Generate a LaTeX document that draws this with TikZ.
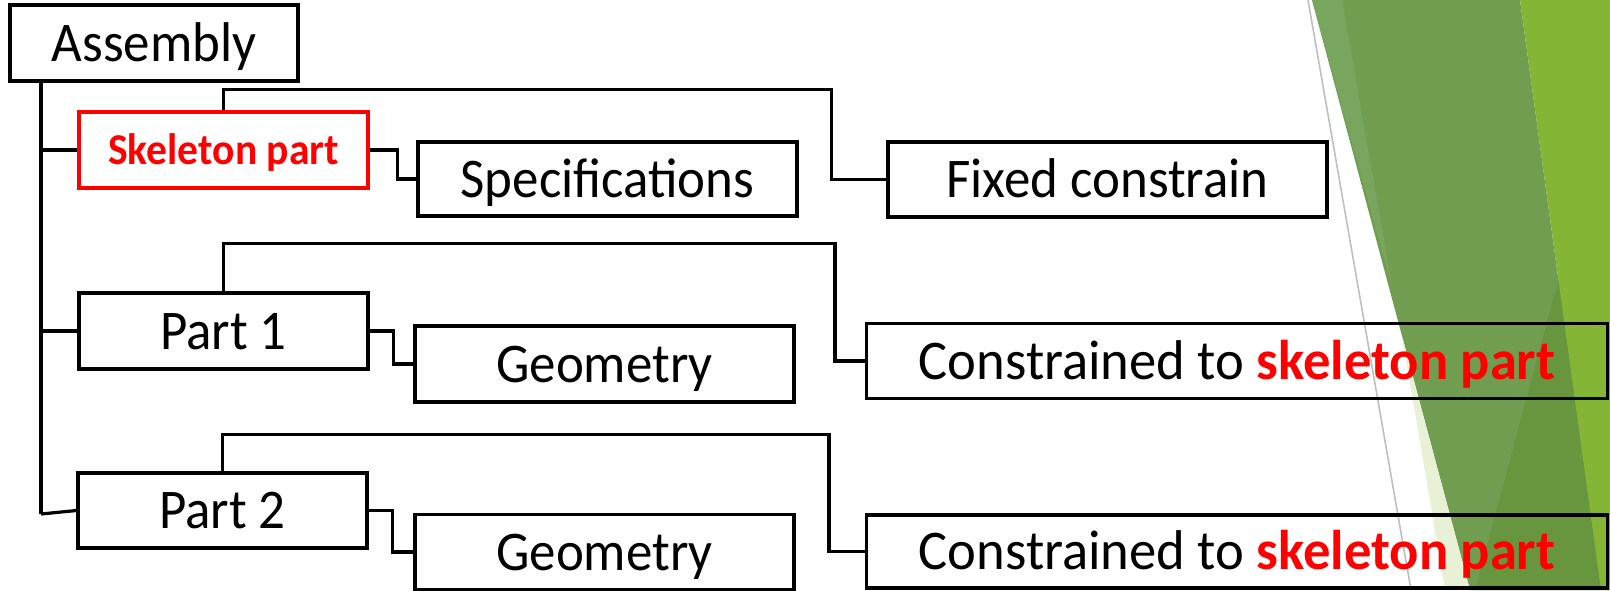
\documentclass[tikz,border=0pt]{standalone}
\usepackage{fontspec}
\setmainfont{Carlito}[FakeStretch=0.945]
\usetikzlibrary{calc}
\definecolor{leafgreen}{HTML}{85B535}
\definecolor{mossgreen}{HTML}{719D50}
\definecolor{palemoss}{HTML}{78A65E}
\definecolor{darkmoss}{HTML}{67963F}
\definecolor{palegreen}{HTML}{E8F0D6}
\definecolor{rulegray}{HTML}{BFBFBF}
\begin{document}
\begin{tikzpicture}[x=.5pt,y=-.5pt,line width=1.6pt,
  box/.style={draw,rectangle,inner sep=0pt,text height=18pt,text depth=0pt,
    font=\fontsize{28}{30}\selectfont},
  widebox/.style={box,font=\fontsize{28}{30}\selectfont\addfontfeature{FakeStretch=0.975}},
  skelbox/.style={box,draw=red,text=red,text height=14.2pt,
    font=\fontsize{22}{24}\selectfont\bfseries}]
  \useasboundingbox (0,0) rectangle (1610,590);

  % green side panel
  \fill[mossgreen] (1312,0) -- (1520,0) -- (1601,590) -- (1470,590) -- cycle;
  \fill[palemoss] (1312,0) -- (1342,0) -- (1392,286) -- cycle;
  \fill[darkmoss] (1612,80) -- (1612,590) -- (1475,590) -- cycle;
  \fill[palegreen] (1402,336) -- (1445,590) -- (1470,590) -- cycle;
  \fill[leafgreen] (1520,0) -- (1610,0) -- (1610,590) -- (1601,590) -- cycle;
  \draw[rulegray,line width=.8pt] (1308,0) -- (1411,590);

  % boxes (sizes in pt, half the pixel size)
  \node[box,minimum width=144pt,minimum height=38pt] (asm) at (154,43) {Assembly};
  \node[skelbox,minimum width=144.5pt,minimum height=38pt] (skel) at (223.5,150) {Skeleton part};
  \node[box,minimum width=189.5pt,minimum height=37pt] (spec) at (607.5,179) {Specifications};
  \node[box,minimum width=219.5pt,minimum height=37.5pt] (fix) at (1107.5,179.5) {Fixed constrain};
  \node[box,minimum width=144.5pt,minimum height=38pt] (part1) at (223.5,331) {Part 1};
  \node[box,minimum width=189.5pt,minimum height=38pt] (geo1) at (604.5,364) {Geometry};
  \node[widebox,minimum width=370.5pt,minimum height=37.5pt] (con1) at (1237,361)
    {Constrained to {\color{red}\bfseries skeleton part}};
  \node[box,minimum width=144.5pt,minimum height=37.5pt] (part2) at (222.5,510.5) {Part 2};
  \node[box,minimum width=189.5pt,minimum height=37.5pt] (geo2) at (604.5,552) {Geometry};
  \node[widebox,minimum width=370.5pt,minimum height=36.5pt] (con2) at (1237,551.5)
    {Constrained to {\color{red}\bfseries skeleton part}};
  \coordinate (trunk) at (41,514);

  % tree lines
  \draw (asm.south -| trunk) -- (trunk);
  \draw (skel.west -| trunk) -- (skel.west);
  \draw (part1.west -| trunk) -- (part1.west);
  \draw (trunk) -- (part2.west);
  \draw (skel.east) -- ++(28,0) |- (spec.west);
  \draw (part1.east) -- ++(24,0) |- (geo1.west);
  \draw (part2.east) -- ++(24,0) |- (geo2.west);
  \draw (skel.north) -- ++(0,-21) -| ($(fix.west)+(-55,0)$) -- (fix.west);
  \draw (part1.north) -- ++(0,-48) -| ($(con1.west)+(-30,0)$) -- (con1.west);
  \draw (part2.north) -- ++(0,-37) -| ($(con2.west)+(-36,0)$) -- (con2.west);
\end{tikzpicture}
\end{document}
